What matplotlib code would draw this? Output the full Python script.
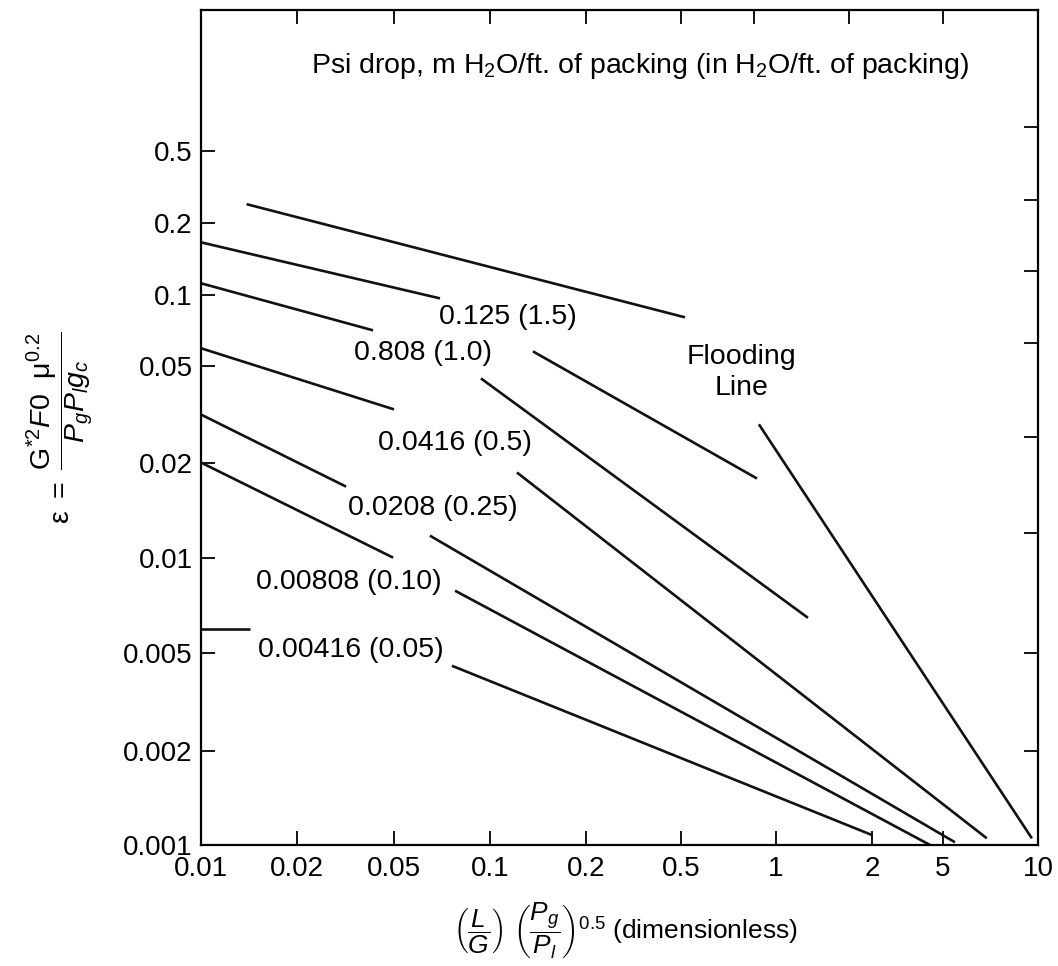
import numpy as np
import matplotlib
matplotlib.use('Agg')
import matplotlib.pyplot as plt

plt.rcParams['font.family'] = ['Liberation Sans', 'DejaVu Sans']
plt.rcParams['mathtext.fontset'] = 'custom'
plt.rcParams['mathtext.rm'] = 'Liberation Sans'
plt.rcParams['mathtext.it'] = 'Liberation Sans:italic'
plt.rcParams['mathtext.bf'] = 'Liberation Sans:bold'

# axis tick values (bottom / left carry the labels)
x_ticks = [0.01, 0.02, 0.05, 0.1, 0.2, 0.5, 1, 2, 5, 10]
x_tick_labels = ['0.01', '0.02', '0.05', '0.1', '0.2', '0.5', '1', '2', '5', '10']
y_ticks = [0.001, 0.002, 0.005, 0.01, 0.02, 0.05, 0.1, 0.2, 0.5]
y_tick_labels = ['0.001', '0.002', '0.005', '0.01', '0.02', '0.05', '0.1', '0.2', '0.5']
top_ticks = [0.02, 0.05, 0.1, 0.2, 0.5, 0.85, 1.7, 5]
right_ticks = [0.68, 0.27, 0.126, 0.063, 0.0254, 0.012, 0.005, 0.002]

# the chart's log axes are hand-spaced, not true decades: value -> distance along axis
x_scale_vals = [0.01, 0.02, 0.05, 0.1, 0.2, 0.5, 1, 2, 5, 10]
x_scale_pos = [0, 96, 193, 289, 385, 480, 575, 671, 742, 837]
y_scale_vals = [0.001, 0.002, 0.005, 0.01, 0.02, 0.05, 0.1, 0.2, 0.5, 3.0]
y_scale_pos = [0, 94, 192, 287, 382, 478, 549, 621, 693, 834]

# constant pressure-drop lines, each broken where its label sits
drop_labels = ['0.125 (1.5)', '0.808 (1.0)', '0.0416 (0.5)',
               '0.0208 (0.25)', '0.00808 (0.10)', '0.00416 (0.05)']
left_x = [(0.01, 0.0697), (0.01, 0.0410), (0.01, 0.05),
          (0.01, 0.0318), (0.01, 0.0496), (0.01, 0.01424)]
left_y = [(0.1665, 0.0971), (0.1123, 0.0711), (0.0597, 0.0332),
          (0.0316, 0.01678), (0.02, 0.01), (0.00596, 0.00596)]
right_x = [(0.1364, 0.871), (0.0937, 1.26), (0.1215, 6.89),
           (0.0648, 5.46), (0.0777, 4.23), (0.076, 2.0)]
right_y = [(0.0579, 0.0178), (0.0446, 0.00645), (0.0186, 0.00105),
           (0.01174, 0.00102), (0.00786, 0.001), (0.004427, 0.001076)]
drop_label_xy = [(0.367, 0.632), (0.265, 0.589), (0.303, 0.481),
                 (0.277, 0.404), (0.177, 0.315), (0.179, 0.234)]

# flooding line, upper and lower parts
flood_upper_x = [0.0139, 0.515]
flood_upper_y = [0.255, 0.0807]
flood_lower_x = [0.883, 9.57]
flood_lower_y = [0.0288, 0.00105]


def make_scale(vals, pos):
    lv = np.log10(vals)

    def forward(v):
        v = np.clip(np.asarray(v, dtype=float), 1e-9, None)
        return np.interp(np.log10(v), lv, pos)

    def inverse(p):
        return 10 ** np.interp(np.asarray(p, dtype=float), pos, lv)

    return forward, inverse


fig = plt.figure(figsize=(10.58, 9.66), dpi=100)
ax = fig.add_axes([0.19, 0.1253, 0.791, 0.8643])

ax.set_xscale('function', functions=make_scale(x_scale_vals, x_scale_pos))
ax.set_yscale('function', functions=make_scale(y_scale_vals, y_scale_pos))
ax.set_xlim(0.01, 10)
ax.set_ylim(0.001, 3.0)

line_kw = dict(color='#111111', linewidth=1.9, solid_capstyle='butt')
for lx, ly, rx, ry in zip(left_x, left_y, right_x, right_y):
    ax.plot(lx, ly, **line_kw)
    ax.plot(rx, ry, **line_kw)
ax.plot(flood_upper_x, flood_upper_y, **line_kw)
ax.plot(flood_lower_x, flood_lower_y, **line_kw)

for text, (tx, ty) in zip(drop_labels, drop_label_xy):
    ax.text(tx, ty, text, transform=ax.transAxes, fontsize=20.5,
            ha='center', va='center')
ax.text(0.646, 0.566, 'Flooding\nLine', transform=ax.transAxes, fontsize=20.5,
        ha='center', va='center', linespacing=1.25)
ax.text(0.524, 0.933,
        r'Psi drop, m H$_2$O/ft. of packing (in H$_2$O/ft. of packing)',
        transform=ax.transAxes, fontsize=20.5, ha='center', va='center')

# labelled ticks bottom/left, bare ticks top/right
ax.set_xticks(x_ticks, labels=x_tick_labels)
ax.set_yticks(y_ticks, labels=y_tick_labels)
ax.set_xticks(top_ticks, minor=True)
ax.set_yticks(right_ticks, minor=True)
ax.xaxis.remove_overlapping_locs = False
ax.yaxis.remove_overlapping_locs = False
ax.tick_params(which='major', direction='in', length=10, width=1.3,
               labelsize=20, bottom=True, top=False, left=True, right=False)
ax.tick_params(which='minor', direction='in', length=10, width=1.3,
               bottom=False, top=True, left=False, right=True)
ax.tick_params(axis='x', which='major', pad=8)
ax.tick_params(axis='y', which='major', pad=6)
for sp in ax.spines.values():
    sp.set_linewidth(1.6)

ax.set_xlabel(r'$\left(\dfrac{L}{G}\right)\ \left(\dfrac{P_g}{P_l}\right)^{0.5}$ (dimensionless)',
              fontsize=19)
ax.xaxis.set_label_coords(0.507, -0.067)
ax.set_ylabel(r'$\mathrm{\varepsilon}\ =\ \dfrac{\mathrm{G}^{*2}F\mathrm{0}\ \ \mathrm{\mu}^{0.2}}{P_gP_lg_c}$',
              fontsize=20.5)
ax.yaxis.set_label_coords(-0.126, 0.5)

fig.savefig('out.png', dpi=100)
